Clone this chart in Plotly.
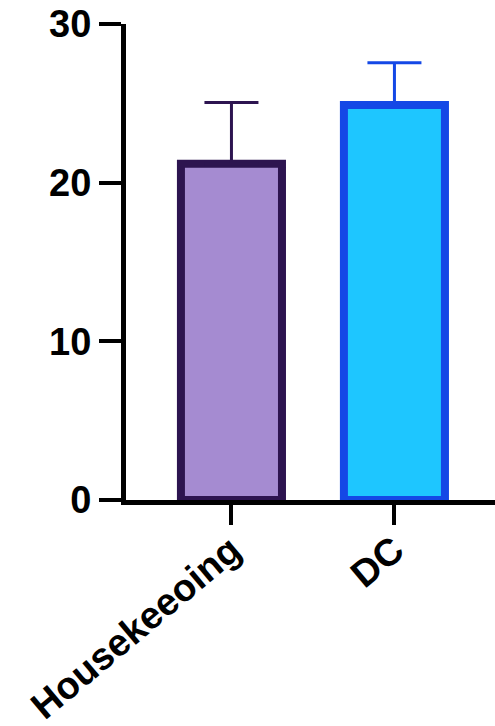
import plotly.graph_objects as go

# Group means and upper SD
categories = ["Housekeeoing", "DC"]
means = [21.2, 24.9]
errors_up = [3.85, 2.65]

fill_colors = ["#a58bd1", "#1ec6ff"]
edge_colors = ["#2d1450", "#1448e6"]

y_ticks = [0, 10, 20, 30]

fig = go.Figure()
for cat, m, e, fc, ec in zip(categories, means, errors_up, fill_colors, edge_colors):
    fig.add_trace(go.Bar(
        x=[cat], y=[m],
        width=0.62,
        marker=dict(color=fc, line=dict(color=ec, width=8)),
        error_y=dict(type="data", symmetric=False, array=[e], arrayminus=[0],
                     color=ec, thickness=3, width=27),
        showlegend=False,
    ))

yfont = dict(family="Liberation Sans, Arial, sans-serif", size=38, color="black", weight="bold")
xfont = dict(family="Liberation Sans, Arial, sans-serif", size=38, color="black", weight="bold")

fig.update_layout(
    width=495, height=726,
    margin=dict(l=126, r=0, t=24, b=226),
    paper_bgcolor="white", plot_bgcolor="white",
    barmode="overlay",
    font=yfont,
    xaxis=dict(
        type="category", categoryorder="array", categoryarray=categories,
        range=[-0.647, 1.617], automargin=False,
        showline=True, linecolor="black", linewidth=5,
        ticks="outside", ticklen=20, tickwidth=4, tickcolor="black",
        tickangle=-40, tickfont=xfont, ticklabelstandoff=-12,
        showgrid=False, zeroline=False,
    ),
    yaxis=dict(
        range=[0, 30], tickvals=y_ticks, automargin=False,
        showline=True, linecolor="black", linewidth=5,
        ticks="outside", ticklen=22, tickwidth=4, tickcolor="black",
        tickfont=yfont, showgrid=False, zeroline=False,
    ),
)

fig.write_html("out.html")
